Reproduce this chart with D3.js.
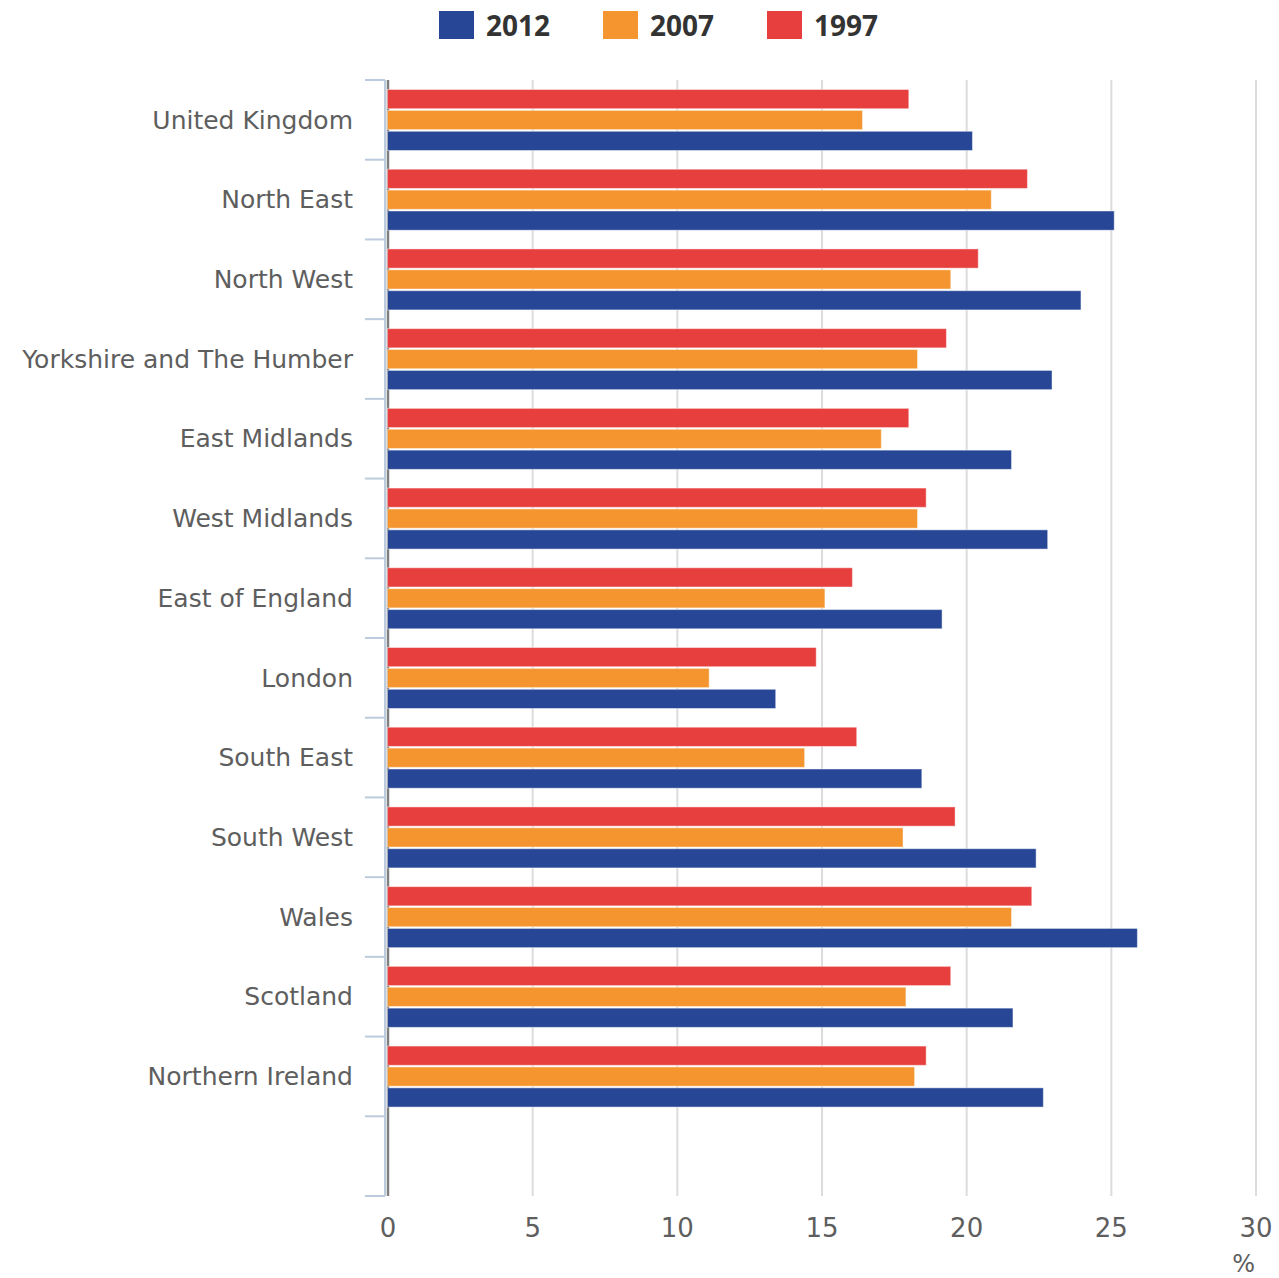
<!DOCTYPE html>
<html>
<head>
<meta charset="utf-8">
<script src="https://cdn.jsdelivr.net/npm/d3@7"></script>
<style>
  html, body { margin: 0; padding: 0; background: #fff; }
  svg { display: block; }
</style>
</head>
<body>
<svg id="chart" width="1279" height="1278"></svg>
<script>
// Regions, top to bottom
const categories = [
  "United Kingdom", "North East", "North West", "Yorkshire and The Humber",
  "East Midlands", "West Midlands", "East of England", "London",
  "South East", "South West", "Wales", "Scotland", "Northern Ireland"
];

// Series (percent), one value per region
const years = ["2012", "2007", "1997"];
const values2012 = [20.2, 25.1, 23.95, 22.95, 21.55, 22.8, 19.15, 13.4, 18.45, 22.4, 25.9, 21.6, 22.65];
const values2007 = [16.4, 20.85, 19.45, 18.3, 17.05, 18.3, 15.1, 11.1, 14.4, 17.8, 21.55, 17.9, 18.2];
const values1997 = [18.0, 22.1, 20.4, 19.3, 18.0, 18.6, 16.05, 14.8, 16.2, 19.6, 22.25, 19.45, 18.6];

const xTicks = [0, 5, 10, 15, 20, 25, 30];
const unitLabel = "%";

const colors = { "2012": "#274796", "2007": "#F4952F", "1997": "#E73E3E" };

const seriesValues = { "2012": values2012, "2007": values2007, "1997": values1997 };
const rows = categories.map((c, i) => ({
  category: c,
  bars: years.map(yr => ({ year: yr, value: seriesValues[yr][i] }))
}));

const svg = d3.select("#chart");
const FONT = "'DejaVu Sans', sans-serif";

// Scales
const x = d3.scaleLinear().domain([0, 30]).range([388, 1256]);
// one trailing empty slot below the last region
const y = d3.scaleBand().domain(categories.concat([" "])).range([80, 1196]).padding(0);
const bw = y.bandwidth();
const yInner = d3.scaleBand().domain(["1997", "2007", "2012"]).range([9.5, 70.5]).paddingInner(0.08);

const plotTop = y.range()[0], plotBottom = y.range()[1];

// Vertical gridlines
svg.append("g").selectAll("line").data(xTicks).join("line")
  .attr("x1", d => x(d)).attr("x2", d => x(d))
  .attr("y1", plotTop).attr("y2", plotBottom)
  .attr("stroke", d => d === 0 ? "#808080" : "#dcdcdc")
  .attr("stroke-width", d => d === 0 ? 2.5 : 2);

// Category axis line and band separators
const axisX = 385;
svg.append("line")
  .attr("x1", axisX).attr("x2", axisX)
  .attr("y1", plotTop).attr("y2", plotBottom)
  .attr("stroke", "#bccbdd").attr("stroke-width", 2);

const boundaries = y.domain().map(d => y(d)).concat([plotBottom]);
svg.append("g").selectAll("line").data(boundaries).join("line")
  .attr("x1", 365).attr("x2", axisX)
  .attr("y1", d => d).attr("y2", d => d)
  .attr("stroke", "#bccbdd").attr("stroke-width", 2);

// Bars
const groups = svg.append("g").selectAll("g").data(rows).join("g")
  .attr("transform", d => `translate(0,${y(d.category)})`);

groups.selectAll("rect").data(d => d.bars).join("rect")
  .attr("x", x(0) - 0.5)
  .attr("y", d => yInner(d.year))
  .attr("width", d => x(d.value) - x(0) + 0.5)
  .attr("height", yInner.bandwidth())
  .attr("fill", d => colors[d.year])
  .attr("stroke", "#ffffff")
  .attr("stroke-opacity", 0.45)
  .attr("stroke-width", 1);

// Category labels
svg.append("g").selectAll("text").data(categories).join("text")
  .attr("x", 353)
  .attr("y", d => y(d) + bw / 2)
  .attr("dy", "0.35em")
  .attr("text-anchor", "end")
  .attr("font-family", FONT)
  .attr("font-size", 25)
  .attr("fill", "#5e5e5e")
  .text(d => d);

// Value axis labels
svg.append("g").selectAll("text").data(xTicks).join("text")
  .attr("x", d => x(d))
  .attr("y", 1237)
  .attr("text-anchor", "middle")
  .attr("font-family", FONT)
  .attr("font-size", 26)
  .attr("fill", "#5e5e5e")
  .text(d => d);

svg.append("text")
  .attr("x", 1255).attr("y", 1272)
  .attr("text-anchor", "end")
  .attr("font-family", FONT)
  .attr("font-size", 24)
  .attr("fill", "#5e5e5e")
  .text(unitLabel);

// Legend
const legend = svg.append("g").selectAll("g").data(years).join("g")
  .attr("transform", (d, i) => `translate(${439 + i * 164},11)`);
legend.append("rect")
  .attr("width", 35).attr("height", 28)
  .attr("fill", d => colors[d]);
legend.append("text")
  .attr("x", 47).attr("y", 24.5)
  .attr("font-family", "'Open Sans', sans-serif")
  .attr("font-weight", 700)
  .attr("font-size", 28)
  .attr("fill", "#333333")
  .text(d => d);
</script>
</body>
</html>
